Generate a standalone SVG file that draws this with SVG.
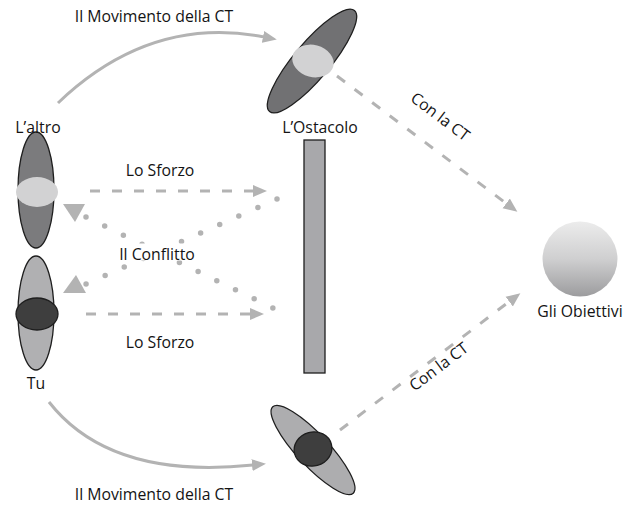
<svg xmlns="http://www.w3.org/2000/svg" width="635" height="506" viewBox="0 0 635 506">
  <style>
    text { font-family: "Open Sans", "Noto Sans", "Liberation Sans", sans-serif; font-size: 15.8px; fill: #141414; }
    .mid { text-anchor: middle; }
    .arc { fill: none; stroke: #b3b3b3; stroke-width: 3; }
    .dash { fill: none; stroke: #b3b3b3; stroke-width: 3; stroke-dasharray: 10 12; }
    .dots { fill: none; stroke: #b3b3b3; stroke-width: 5.5; stroke-linecap: round; }
    .head { fill: #b3b3b3; }
    .outline { stroke: #1e1e1e; stroke-width: 1.3; }
  </style>
  <defs>
    <marker id="arrow" markerUnits="userSpaceOnUse" markerWidth="16" markerHeight="14" refX="1" refY="7" orient="auto">
      <path d="M0,1 L14,7 L0,13 Z" fill="#b3b3b3"/>
    </marker>
    <linearGradient id="goalFill" x1="0" y1="0" x2="0" y2="1">
      <stop offset="0" stop-color="#ececec"/>
      <stop offset="0.5" stop-color="#cfcfd0"/>
      <stop offset="1" stop-color="#9c9c9e"/>
    </linearGradient>
  </defs>

  <!-- connectors -->
  <g id="connectors">
    <path class="arc" d="M58,103 Q150,15 264,37" marker-end="url(#arrow)"/>
    <path class="arc" d="M49,402 Q110,480 253,465" marker-end="url(#arrow)"/>
    <path class="dash" d="M337,76 L507,204" marker-end="url(#arrow)"/>
    <path class="dash" d="M340,430 L510,301" marker-end="url(#arrow)"/>
    <path class="dash" d="M90,191 L254,191" marker-end="url(#arrow)"/>
    <path class="dash" d="M86,314 L251,314" marker-end="url(#arrow)"/>
    <path class="dots" d="M86,217 L273,308" stroke-dasharray="0 20.78"/>
    <path class="dots" d="M277,199 L86,284" stroke-dasharray="0 20.9"/>
    <polygon class="head" points="63,204 85,204 75,222"/>
    <polygon class="head" points="63,293 86,293 76,275"/>
  </g>

  <!-- L'altro -->
  <g id="altro">
    <ellipse class="outline" cx="36" cy="190" rx="18" ry="58" fill="#7b7b7d"/>
    <ellipse cx="37" cy="192" rx="21" ry="15" fill="#d2d2d3"/>
    <text class="mid" x="38" y="133">L’altro</text>
  </g>

  <!-- Tu -->
  <g id="tu">
    <ellipse class="outline" cx="36" cy="313" rx="18" ry="57" fill="#b0b0b2"/>
    <ellipse class="outline" cx="37" cy="314" rx="21" ry="16" fill="#3e3e3e"/>
    <text class="mid" x="36" y="389">Tu</text>
  </g>

  <!-- L'altro after the movement -->
  <g id="altro-moved">
    <ellipse class="outline" cx="312" cy="61" rx="66" ry="18" fill="#717173" transform="rotate(-50 312 61)"/>
    <ellipse cx="313" cy="61" rx="21" ry="16" fill="#d2d2d3" transform="rotate(15 313 61)"/>
  </g>

  <!-- Tu after the movement -->
  <g id="tu-moved">
    <ellipse class="outline" cx="313" cy="450" rx="59" ry="16" fill="#adadaf" transform="rotate(47 313 450)"/>
    <ellipse class="outline" cx="313" cy="449" rx="19" ry="17" fill="#3e3e3e" transform="rotate(-15 313 449)"/>
  </g>

  <!-- L'Ostacolo -->
  <g id="ostacolo">
    <rect class="outline" x="304" y="140" width="21" height="233" fill="#a8a8ab"/>
    <text class="mid" x="320" y="133">L’Ostacolo</text>
  </g>

  <!-- Gli Obiettivi -->
  <g id="obiettivi">
    <circle cx="580" cy="259" r="37.5" fill="url(#goalFill)"/>
    <text class="mid" x="580" y="317">Gli Obiettivi</text>
  </g>

  <!-- connector labels -->
  <g id="labels">
    <text class="mid" x="154" y="22">Il Movimento della CT</text>
    <text class="mid" x="154" y="500">Il Movimento della CT</text>
    <text class="mid" x="160" y="176">Lo Sforzo</text>
    <text class="mid" x="160" y="348">Lo Sforzo</text>
    <rect x="108" y="243.5" width="98" height="17" fill="#ffffff"/>
    <text class="mid" x="157" y="260">Il Conflitto</text>
    <text class="mid" transform="translate(437,121) rotate(37)">Con la CT</text>
    <text class="mid" transform="translate(442,371) rotate(-37)">Con la CT</text>
  </g>
</svg>
